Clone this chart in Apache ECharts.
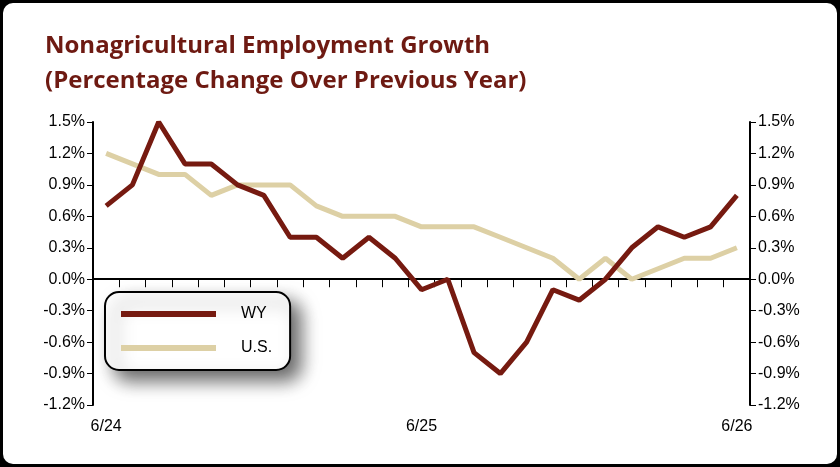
<!DOCTYPE html>
<html><head><meta charset="utf-8">
<script src="https://cdn.jsdelivr.net/npm/echarts@6/dist/echarts.min.js"></script>
<style>
html,body{margin:0;padding:0;background:#000;}
#c{position:absolute;left:3px;top:3px;width:834px;height:461px;background:#fff;border-radius:10px;overflow:hidden;}
</style></head><body>
<div id="c"></div>
<script>
const categories = ['6/24','7/24','8/24','9/24','10/24','11/24','12/24','1/25','2/25','3/25','4/25','5/25','6/25','7/25','8/25','9/25','10/25','11/25','12/25','1/26','2/26','3/26','4/26','5/26','6/26'];
const wy = [0.7,0.9,1.5,1.1,1.1,0.9,0.8,0.4,0.4,0.2,0.4,0.2,-0.1,0.0,-0.7,-0.9,-0.6,-0.1,-0.2,0.0,0.3,0.5,0.4,0.5,0.8];
const us = [1.2,1.1,1.0,1.0,0.8,0.9,0.9,0.9,0.7,0.6,0.6,0.6,0.5,0.5,0.5,0.4,0.3,0.2,0.0,0.2,0.0,0.1,0.2,0.2,0.3];
const chart = echarts.init(document.getElementById('c'));
const font = "'Liberation Sans', Arial, sans-serif";
const yAx = (pos) => ({
  type:'value', position:pos, min:-1.2, max:1.5, interval:0.3,
  axisLine:{show:true,lineStyle:{color:'#000',width:2}},
  axisTick:{show:true,length:6,lineStyle:{color:'#000'}},
  splitLine:{show:false},
  axisLabel:{color:'#000',fontSize:16,fontFamily:font,formatter:v=>v.toFixed(1)+'%',margin:8}
});
chart.setOption({
  animation:false,
  title:{text:'Nonagricultural Employment Growth\n(Percentage Change Over Previous Year)',left:37,top:21,
    textStyle:{color:'#6E1A12',fontSize:24,fontWeight:'bold',fontFamily:"'Open Sans', sans-serif",lineHeight:35}},
  grid:{left:90,right:87,top:119,bottom:59},
  legend:{orient:'vertical',left:102,top:289,padding:[14,18,14,16],itemGap:18,itemWidth:95,itemHeight:6,
    backgroundColor:'#fff',borderColor:'#000',borderWidth:2,borderRadius:14,
    shadowBlur:18,shadowColor:'rgba(0,0,0,0.6)',shadowOffsetX:10,shadowOffsetY:10,
    textStyle:{fontSize:16,fontFamily:font,color:'#000',padding:[0,0,0,20]},
    data:[{name:'WY',icon:'rect'},{name:'U.S.',icon:'rect'}]},
  xAxis:[
    {type:'category',data:categories,boundaryGap:true,
     axisLine:{onZero:true,lineStyle:{color:'#000',width:2}},
     axisTick:{show:true,length:8,inside:false,interval:0,lineStyle:{color:'#000'}},
     axisLabel:{show:false}},
    {type:'category',data:categories,boundaryGap:true,position:'bottom',
     axisLine:{show:false},axisTick:{show:false},
     axisLabel:{interval:11,color:'#000',fontSize:16,fontFamily:font,margin:14}}
  ],
  yAxis:[yAx('left'),yAx('right')],
  series:[
    {name:'WY',type:'line',data:wy,symbol:'none',lineStyle:{color:'#761A10',width:5},itemStyle:{color:'#761A10'},z:3},
    {name:'U.S.',type:'line',data:us,symbol:'none',lineStyle:{color:'#DDD0A5',width:5},itemStyle:{color:'#DDD0A5'},z:2}
  ]
});
</script></body></html>
